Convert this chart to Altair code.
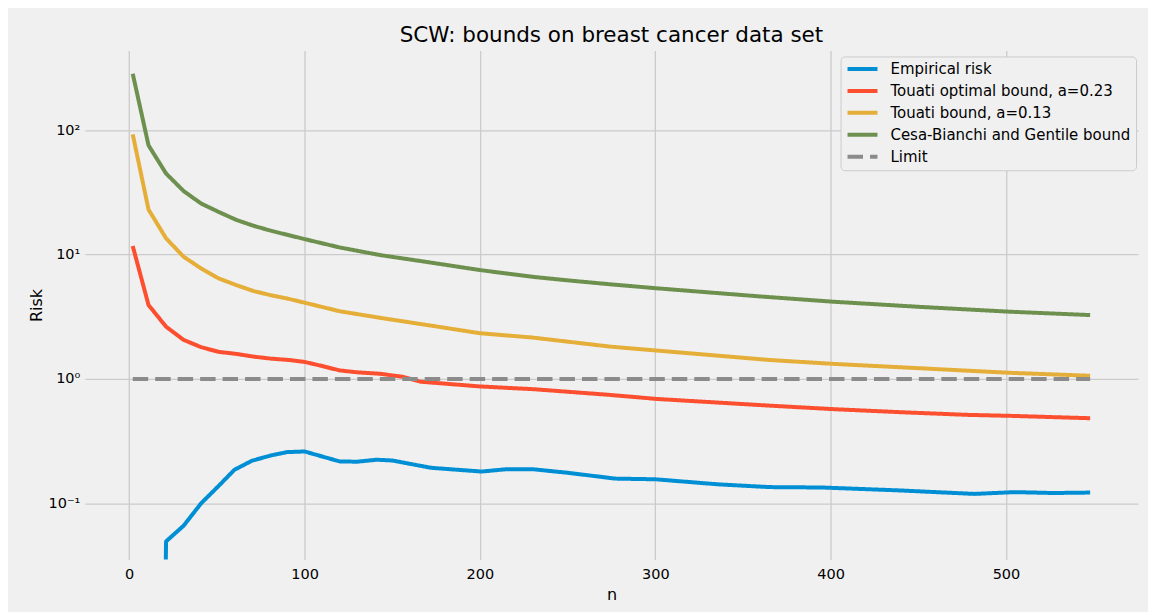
import altair as alt
import pandas as pd

# ---- data ----
series_names = [
    "Empirical risk",
    "Touati optimal bound, a=0.23",
    "Touati bound, a=0.13",
    "Cesa-Bianchi and Gentile bound",
    "Limit",
]
series_colors = ["#008fd5", "#fc4f30", "#e5ae38", "#6d904f", "#8b8b8b"]

# empirical risk is 0 for the first two n (shown as a tiny floor value on the log axis)
emp_n = [2, 11, 21, 31, 41, 51, 60, 70, 81, 90, 100, 120, 130, 141, 150, 172, 201, 215, 230,
         250, 277, 300, 336, 365, 395, 439, 482, 505, 527, 548]
emp_v = [1e-12, 1e-12, 0.0494, 0.066, 0.100, 0.138, 0.186, 0.220, 0.243, 0.258, 0.261, 0.217,
         0.216, 0.224, 0.221, 0.193, 0.180, 0.188, 0.188, 0.176, 0.158, 0.156, 0.142, 0.135,
         0.134, 0.127, 0.119, 0.123, 0.121, 0.122]

opt_n = [2, 11, 21, 31, 41, 51, 61, 71, 81, 91, 100, 110, 120, 130, 143, 156, 166, 200, 231,
         274, 301, 365, 402, 440, 478, 502, 548]
opt_v = [11.7, 3.93, 2.63, 2.06, 1.80, 1.65, 1.59, 1.51, 1.455, 1.42, 1.37, 1.27, 1.17, 1.13,
         1.10, 1.04, 0.95, 0.87, 0.826, 0.744, 0.69, 0.61, 0.571, 0.54, 0.514, 0.505, 0.483]

tou_n = [2, 11, 21, 31, 41, 51, 61, 71, 81, 91, 100, 120, 143, 170, 200, 230, 274, 301, 365,
         402, 450, 502, 548]
tou_v = [92.5, 23.0, 13.5, 9.6, 7.73, 6.43, 5.68, 5.08, 4.7, 4.4, 4.1, 3.5, 3.1, 2.71, 2.33,
         2.15, 1.82, 1.69, 1.42, 1.32, 1.22, 1.12, 1.06]

cbg_n = [2, 11, 21, 31, 41, 51, 61, 71, 81, 91, 100, 120, 143, 170, 200, 230, 250, 275, 301,
         360, 402, 450, 502, 548]
cbg_v = [284, 75.5, 44.8, 32.4, 25.7, 22.0, 19.0, 17.0, 15.5, 14.3, 13.3, 11.4, 9.9, 8.7, 7.5,
         6.62, 6.2, 5.75, 5.35, 4.6, 4.17, 3.8, 3.47, 3.26]

lim_n = [2, 548]
lim_v = [1.0, 1.0]

x_ticks = [0, 100, 200, 300, 400, 500]
y_ticks = [0.1, 1, 10, 100]

rows = []
for name, ns, vs in zip(series_names,
                        [emp_n, opt_n, tou_n, cbg_n, lim_n],
                        [emp_v, opt_v, tou_v, cbg_v, lim_v]):
    for n, v in zip(ns, vs):
        rows.append({"series": name, "n": n, "risk": v})
df = pd.DataFrame(rows)

FONT = "DejaVu Sans"

legend = alt.Legend(
    title=None,
    orient="none",
    legendX=757,
    legendY=6,
    symbolType="stroke",
    symbolStrokeWidth=4,
    symbolSize=900,
    clipHeight=15,
    labelFont=FONT,
    labelFontSize=15,
    labelColor="#000000",
    labelLimit=0,
    labelOffset=11,
    fillColor="#f0f0f0",
    strokeColor="#cccccc",
    cornerRadius=4,
    padding=5,
    rowPadding=6,
)

chart = alt.Chart(df).mark_line(strokeWidth=4, clip=True, strokeJoin="round").encode(
    x=alt.X(
        "n:Q",
        scale=alt.Scale(domain=[-25.3, 575.3], nice=False, zero=False),
        axis=alt.Axis(values=x_ticks, title="n", labelPadding=8, titlePadding=6, format="d"),
    ),
    y=alt.Y(
        "risk:Q",
        scale=alt.Scale(type="log", domain=[0.0353, 437], nice=False),
        axis=alt.Axis(
            values=y_ticks,
            title="Risk",
            labelPadding=5,
            titlePadding=4,
            labelExpr="datum.value > 50 ? '10²' : datum.value > 5 ? '10¹' : datum.value > 0.5 ? '10⁰' : '10⁻¹'",
        ),
    ),
    color=alt.Color(
        "series:N",
        scale=alt.Scale(domain=series_names, range=series_colors),
        legend=legend,
    ),
    strokeDash=alt.StrokeDash(
        "series:N",
        scale=alt.Scale(domain=series_names, range=[[1, 0], [1, 0], [1, 0], [1, 0], [15.5, 7]]),
        legend=legend,
    ),
).properties(
    width=1055,
    height=510,
    title=alt.TitleParams(
        "SCW: bounds on breast cancer data set",
        font=FONT,
        fontSize=21.5,
        fontWeight="normal",
        color="#000000",
        offset=4,
    ),
    background="#f0f0f0",
    padding={"left": 77, "top": 42, "right": 10, "bottom": 52},
    autosize=alt.AutoSizeParams(type="none"),
).configure_view(
    strokeWidth=0,
    fill="#f0f0f0",
).configure_axis(
    grid=True,
    gridColor="#cbcbcb",
    gridWidth=1.3,
    domain=False,
    ticks=False,
    labelFont=FONT,
    labelFontSize=14.5,
    labelColor="#000000",
    titleFont=FONT,
    titleFontSize=16,
    titleFontWeight="normal",
    titleColor="#000000",
)

chart.save("out.html", embed_options={"renderer": "svg", "actions": False})
